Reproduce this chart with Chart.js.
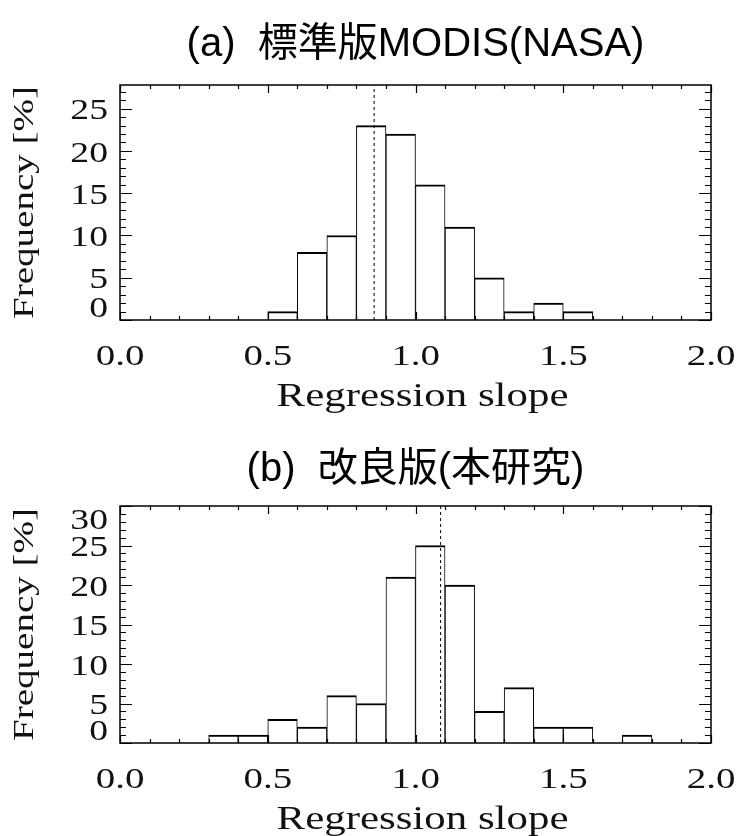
<!DOCTYPE html>
<html>
<head>
<meta charset="utf-8">
<script src="https://cdn.jsdelivr.net/npm/chart.js@4.4.1/dist/chart.umd.min.js"></script>
<style>
  body { margin: 0; background: #fff; }
  canvas { display: block; }
</style>
</head>
<body>
<canvas id="chartA" width="738" height="418"></canvas>
<canvas id="chartB" width="738" height="418"></canvas>
<script>
// bin centres of the slope histogram (bin width 0.1)
var slopeBins = [0.05, 0.15, 0.25, 0.35, 0.45, 0.55, 0.65, 0.75, 0.85, 0.95,
                 1.05, 1.15, 1.25, 1.35, 1.45, 1.55, 1.65, 1.75, 1.85, 1.95];
// frequency [%] per bin
var freqNasa = [0, 0, 0, 0, 0, 1, 8, 10, 23, 22, 16, 11, 5, 1, 2, 1, 0, 0, 0, 0];
var freqStudy = [0, 0, 0, 1, 1, 3, 2, 6, 5, 21, 25, 20, 4, 7, 2, 2, 0, 1, 0, 0];
// dashed line = mean slope
var meanNasa = 0.86;
var meanStudy = 1.085;
var yMaxNasa = 27.8;
var yMaxStudy = 30;
var xTickLabels = ['0.0', '0.5', '1.0', '1.5', '2.0'];
var xTickValues = [0, 0.5, 1, 1.5, 2];
var yTicksNasa = [0, 5, 10, 15, 20, 25];
var yTicksStudy = [0, 5, 10, 15, 20, 25, 30];
var titleNasa = '(a)  標準版MODIS(NASA)';
var titleStudy = '(b)  改良版(本研究)';
var xTitle = 'Regression slope';
var yTitle = 'Frequency [%]';

var serif = '"Liberation Serif", "Times New Roman", serif';
var stretch = 1.3;

//draws text squeezed out wide like the old plotting fonts
function wideText(ctx, text, x, y, size, align, angle){
	ctx.save();
	ctx.translate(x, y);
	if(angle) ctx.rotate(angle);
	ctx.scale(stretch, 1);
	ctx.font = size + 'px ' + serif;
	ctx.fillStyle = '#111';
	ctx.textAlign = align;
	ctx.textBaseline = 'middle';
	ctx.fillText(text, 0, 0);
	ctx.restore();
}

//frame, inward ticks and labels
var boxAxes = {
	id: 'boxAxes',
	afterDatasetsDraw: function(chart, args, opts){
		var ctx = chart.ctx;
		var a = chart.chartArea;
		var xs = chart.scales.x;
		var ys = chart.scales.y;
		ctx.save();
		ctx.strokeStyle = '#000';
		ctx.lineWidth = 1.5;
		ctx.strokeRect(a.left, a.top, a.right - a.left, a.bottom - a.top);

		ctx.lineWidth = 1.2;
		ctx.beginPath();
		//x ticks every 0.1, long every 0.5
		for(var i = 0; i <= 20; i++)
		{
			var px = Math.round(xs.getPixelForValue(i / 10)) + 0.5;
			var len = (i % 5 == 0) ? 8 : 4;
			ctx.moveTo(px, a.bottom); ctx.lineTo(px, a.bottom - len);
			ctx.moveTo(px, a.top); ctx.lineTo(px, a.top + len);
		}
		//y ticks every 1, long every 5
		for(var v = 0; v <= ys.max; v++)
		{
			var py = Math.round(ys.getPixelForValue(v)) + 0.5;
			var l = (v % 5 == 0) ? 12 : 6;
			ctx.moveTo(a.left, py); ctx.lineTo(a.left + l, py);
			ctx.moveTo(a.right, py); ctx.lineTo(a.right - l, py);
		}
		ctx.stroke();
		ctx.restore();

		for(var j = 0; j < xTickValues.length; j++)
		{
			wideText(ctx, xTickLabels[j], xs.getPixelForValue(xTickValues[j]), a.bottom + 37, 30, 'center');
		}
		opts.yTicks.forEach(function(t){
			var y = ys.getPixelForValue(t) + 3;
			y = Math.min(Math.max(y, a.top + 15), a.bottom - 11);
			wideText(ctx, String(t), a.left - 12, y, 29, 'right');
		});
		wideText(ctx, xTitle, (a.left + a.right) / 2 + 7, a.bottom + 77, 33, 'center');
		wideText(ctx, yTitle, 25, (a.top + a.bottom) / 2, 30, 'center', -Math.PI / 2);
	}
};

function makeChart(id, title, freq, mean, yMax, yTicks, pad, titlePad){
	var bars = [];
	for(var i = 0; i < slopeBins.length; i++)
	{
		bars.push({x: slopeBins[i], y: freq[i]});
	}
	return new Chart(document.getElementById(id), {
		type: 'bar',
		data: {
			datasets: [
				{
					type: 'line',
					data: [{x: mean, y: 0}, {x: mean, y: yMax}],
					borderColor: '#000',
					borderWidth: 1,
					borderDash: [3, 3],
					pointRadius: 0,
					order: 0
				},
				{
					data: bars,
					backgroundColor: '#fff',
					borderColor: '#000',
					borderWidth: {top: 2, left: 1, right: 1, bottom: 0},
					borderSkipped: false,
					barPercentage: 1,
					categoryPercentage: 1,
					order: 1
				}
			]
		},
		options: {
			responsive: false,
			animation: false,
			layout: { padding: pad },
			scales: {
				x: { type: 'linear', min: 0, max: 2, offset: false, display: false, grid: { offset: false } },
				y: { min: 0, max: yMax, display: false }
			},
			plugins: {
				legend: { display: false },
				tooltip: { enabled: false },
				title: {
					display: true,
					text: title,
					color: '#000',
					font: { family: '"Liberation Sans", "Noto Sans CJK JP", sans-serif', size: 40, weight: 'normal', lineHeight: 1.2 },
					padding: titlePad
				},
				boxAxes: { yTicks: yTicks }
			}
		},
		plugins: [boxAxes]
	});
}

makeChart('chartA', titleNasa, freqNasa, meanNasa, yMaxNasa, yTicksNasa,
	{left: 120, right: 27, top: 0, bottom: 98}, {top: 21, bottom: 16});
makeChart('chartB', titleStudy, freqStudy, meanStudy, yMaxStudy, yTicksStudy,
	{left: 120, right: 27, top: 0, bottom: 93}, {top: 28, bottom: 12});
</script>
</body>
</html>
